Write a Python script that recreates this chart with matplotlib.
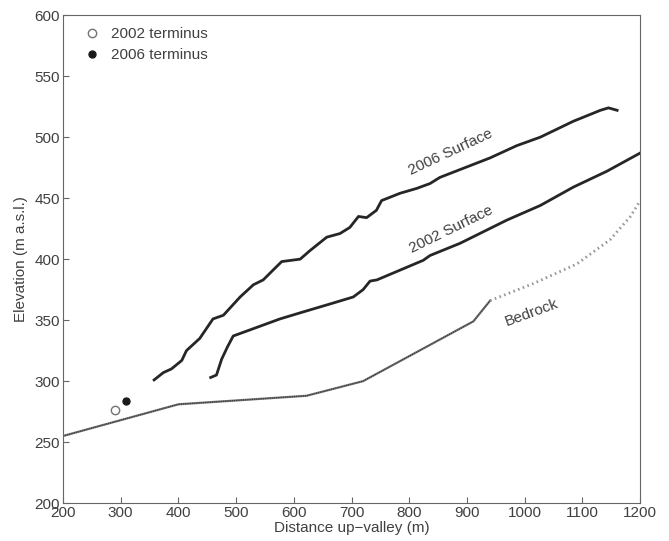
import numpy as np
import matplotlib
matplotlib.use('Agg')
import matplotlib.pyplot as plt

plt.rcParams['font.family'] = ['Liberation Sans', 'DejaVu Sans']

# 2006 surface profile
x06 = [358, 374, 388, 406, 414, 437, 460, 478, 507, 530, 547, 564, 579, 611, 628,
       657, 680, 697, 712, 726, 743, 752, 784, 813, 836, 853, 940, 986, 1027,
       1084, 1131, 1145, 1160]
y06 = [301, 307, 310, 317, 325, 335, 351, 354, 369, 379, 383, 391, 398, 400, 407,
       418, 421, 426, 435, 434, 440, 448, 454, 458, 462, 467, 483, 493, 500,
       513, 522, 524, 522]

# 2002 surface profile
x02 = [456, 466, 475, 485, 495, 524, 576, 611, 668, 703, 720, 732, 744, 784,
       824, 836, 888, 969, 1027, 1084, 1142, 1200]
y02 = [303, 305, 318, 328, 337, 342, 351, 356, 364, 369, 375, 382, 383, 391,
       399, 403, 413, 432, 444, 459, 472, 487]

# bedrock (surveyed and inferred)
xbed = [200, 400, 622, 720, 911, 940]
ybed = [255, 281, 288, 300, 349, 366]
xbed_inf = [940, 1015, 1090, 1148, 1183, 1200]
ybed_inf = [366, 380, 396, 416, 435, 448]

# terminus positions
term02 = (291, 276)
term06 = (309, 284)

fig = plt.figure(figsize=(6.69, 5.41), dpi=100)
ax = fig.add_axes([0.094, 0.07, 0.863, 0.902])

ax.plot(xbed, ybed, color='0.45', lw=1.6)
ax.plot(xbed, ybed, color='0.2', lw=0.8, linestyle=(0, (1, 1)))
ax.plot(xbed_inf, ybed_inf, color='0.6', lw=2, linestyle=(0, (0.6, 1.2)))

ax.plot(x02, y02, color='0.15', lw=2)
ax.plot(x06, y06, color='0.15', lw=2)

ax.plot(*term02, 'o', mfc='white', mec='0.45', ms=6, mew=1, label='2002 terminus')
ax.plot(*term06, 'o', color='0.1', ms=5, label='2006 terminus')

ax.text(872, 488, '2006 Surface', rotation=25, ha='center', va='center',
        fontsize=11, color='0.25')
ax.text(872, 424, '2002 Surface', rotation=26, ha='center', va='center',
        fontsize=11, color='0.25')
ax.text(1012, 356, 'Bedrock', rotation=20, ha='center', va='center',
        fontsize=11, color='0.25')

ax.set_xlim(200, 1200)
ax.set_ylim(200, 600)
ax.set_xticks(np.arange(200, 1201, 100))
ax.set_yticks(np.arange(200, 601, 50))
ax.tick_params(direction='in', labelsize=11, colors='0.4', labelcolor='0.25',
               length=4, pad=2)
for s in ax.spines.values():
    s.set_color('0.4')

ax.set_xlabel('Distance up\u2212valley (m)', fontsize=11, color='0.25', labelpad=1)
ax.set_ylabel('Elevation (m a.s.l.)', fontsize=11, color='0.25', labelpad=5)

leg = ax.legend(loc='upper left', frameon=False, fontsize=11, handletextpad=0.15,
                borderaxespad=0.4, labelspacing=0.45, handlelength=2.2)
for t in leg.get_texts():
    t.set_color('0.25')

fig.savefig('out.png', dpi=100)
